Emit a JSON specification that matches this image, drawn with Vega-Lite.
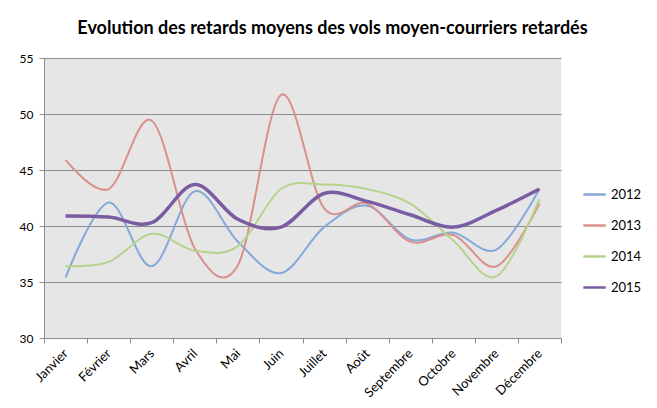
{
  "$schema": "https://vega.github.io/schema/vega-lite/v6.json",
  "width": 517,
  "height": 280,
  "autosize": {"type": "none"},
  "padding": {"left": 44, "top": 58, "right": 96, "bottom": 70},
  "background": "white",
  "title": {
    "text": "Evolution des retards moyens des vols moyen-courriers retardés",
    "font": "Lato",
    "fontSize": 18,
    "fontWeight": "bold",
    "color": "#000000",
    "anchor": "middle",
    "frame": "group",
    "offset": 14,
    "dx": 30
  },
  "config": {
    "font": "Lato",
    "view": {"fill": "#e6e6e6", "stroke": null},
    "axis": {
      "labelFont": "Lato",
      "labelFontSize": 12,
      "labelColor": "#000000",
      "domainColor": "#8c8c8c",
      "tickColor": "#8c8c8c",
      "gridColor": "#8c8c8c",
      "gridWidth": 1,
      "title": null
    }
  },
  "data": {
    "values": [
      {"month": "Janvier", "year": "2012", "value": 35.4},
      {"month": "Février", "year": "2012", "value": 42.1},
      {"month": "Mars", "year": "2012", "value": 36.4},
      {"month": "Avril", "year": "2012", "value": 43.1},
      {"month": "Mai", "year": "2012", "value": 38.6},
      {"month": "Juin", "year": "2012", "value": 35.8},
      {"month": "Juillet", "year": "2012", "value": 39.9},
      {"month": "Août", "year": "2012", "value": 41.8},
      {"month": "Septembre", "year": "2012", "value": 38.8},
      {"month": "Octobre", "year": "2012", "value": 39.4},
      {"month": "Novembre", "year": "2012", "value": 37.9},
      {"month": "Décembre", "year": "2012", "value": 43.3},
      {"month": "Janvier", "year": "2013", "value": 45.9},
      {"month": "Février", "year": "2013", "value": 43.3},
      {"month": "Mars", "year": "2013", "value": 49.4},
      {"month": "Avril", "year": "2013", "value": 38.0},
      {"month": "Mai", "year": "2013", "value": 36.5},
      {"month": "Juin", "year": "2013", "value": 51.7},
      {"month": "Juillet", "year": "2013", "value": 41.6},
      {"month": "Août", "year": "2013", "value": 42.0},
      {"month": "Septembre", "year": "2013", "value": 38.6},
      {"month": "Octobre", "year": "2013", "value": 39.2},
      {"month": "Novembre", "year": "2013", "value": 36.4},
      {"month": "Décembre", "year": "2013", "value": 42.0},
      {"month": "Janvier", "year": "2014", "value": 36.4},
      {"month": "Février", "year": "2014", "value": 36.8},
      {"month": "Mars", "year": "2014", "value": 39.3},
      {"month": "Avril", "year": "2014", "value": 37.8},
      {"month": "Mai", "year": "2014", "value": 38.2},
      {"month": "Juin", "year": "2014", "value": 43.3},
      {"month": "Juillet", "year": "2014", "value": 43.7},
      {"month": "Août", "year": "2014", "value": 43.3},
      {"month": "Septembre", "year": "2014", "value": 42.0},
      {"month": "Octobre", "year": "2014", "value": 38.7},
      {"month": "Novembre", "year": "2014", "value": 35.5},
      {"month": "Décembre", "year": "2014", "value": 42.4},
      {"month": "Janvier", "year": "2015", "value": 40.9},
      {"month": "Février", "year": "2015", "value": 40.8},
      {"month": "Mars", "year": "2015", "value": 40.3},
      {"month": "Avril", "year": "2015", "value": 43.7},
      {"month": "Mai", "year": "2015", "value": 40.6},
      {"month": "Juin", "year": "2015", "value": 39.9},
      {"month": "Juillet", "year": "2015", "value": 42.9},
      {"month": "Août", "year": "2015", "value": 42.2},
      {"month": "Septembre", "year": "2015", "value": 41.0},
      {"month": "Octobre", "year": "2015", "value": 39.9},
      {"month": "Novembre", "year": "2015", "value": 41.4},
      {"month": "Décembre", "year": "2015", "value": 43.3}
    ]
  },
  "mark": {"type": "line", "interpolate": "cardinal", "tension": 0},
  "encoding": {
    "x": {
      "field": "month",
      "type": "nominal",
      "sort": ["Janvier", "Février", "Mars", "Avril", "Mai", "Juin", "Juillet", "Août", "Septembre", "Octobre", "Novembre", "Décembre"],
      "scale": {"paddingInner": 0, "paddingOuter": 0},
      "axis": {
        "labelAngle": -45,
        "labelAlign": "right",
        "labelBaseline": "middle",
        "labelPadding": 8,
        "labelFontSize": 13,
        "tickBand": "extent",
        "tickSize": 5,
        "grid": false,
        "domain": true
      }
    },
    "y": {
      "field": "value",
      "type": "quantitative",
      "scale": {"domain": [30, 55], "nice": false, "zero": false},
      "axis": {
        "values": [30, 35, 40, 45, 50, 55],
        "tickSize": 5,
        "grid": true,
        "labelPadding": 6
      }
    },
    "color": {
      "field": "year",
      "type": "nominal",
      "scale": {
        "domain": ["2012", "2013", "2014", "2015"],
        "range": ["#84a9d8", "#d9908d", "#b6d38c", "#7a5ca3"]
      },
      "legend": {
        "title": null,
        "orient": "none",
        "legendX": 538,
        "legendY": 124,
        "symbolType": "stroke",
        "symbolSize": 500,
        "symbolStrokeWidth": 2.5,
        "labelFont": "Lato",
        "labelFontSize": 13,
        "labelColor": "#000000",
        "rowPadding": 11,
        "labelOffset": 4
      }
    },
    "strokeWidth": {
      "condition": {"test": "datum.year === '2015'", "value": 3.5},
      "value": 2
    }
  }
}
